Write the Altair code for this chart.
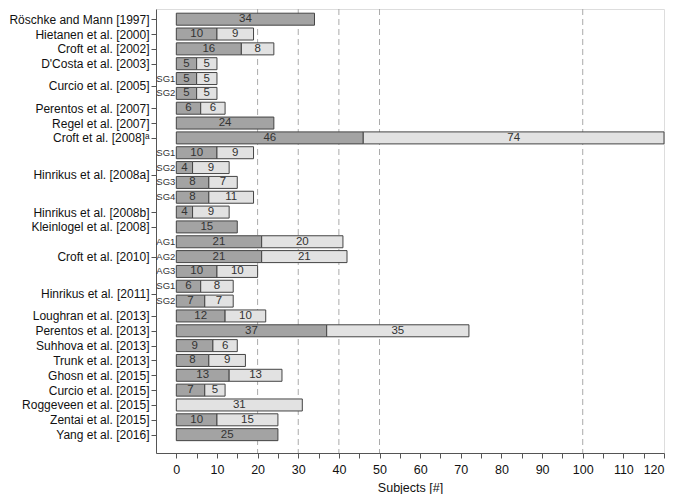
import json
import altair as alt
import pandas as pd

# ---- data ----
studies = [
    "Röschke and Mann [1997]", "Hietanen et al. [2000]", "Croft et al. [2002]",
    "D'Costa et al. [2003]", "Curcio et al. [2005]", "Curcio et al. [2005]",
    "Perentos et al. [2007]", "Regel et al. [2007]", "Croft et al. [2008]ᵃ",
    "Hinrikus et al. [2008a]", "Hinrikus et al. [2008a]", "Hinrikus et al. [2008a]",
    "Hinrikus et al. [2008a]", "Hinrikus et al. [2008b]", "Kleinlogel et al. [2008]",
    "Croft et al. [2010]", "Croft et al. [2010]", "Croft et al. [2010]",
    "Hinrikus et al. [2011]", "Hinrikus et al. [2011]", "Loughran et al. [2013]",
    "Perentos et al. [2013]", "Suhhova et al. [2013]", "Trunk et al. [2013]",
    "Ghosn et al. [2015]", "Curcio et al. [2015]", "Roggeveen et al. [2015]",
    "Zentai et al. [2015]", "Yang et al. [2016]",
]
subgroups = ["", "", "", "", "SG1", "SG2", "", "", "", "SG1", "SG2", "SG3", "SG4",
             "", "", "AG1", "AG2", "AG3", "SG1", "SG2", "", "", "", "", "", "", "", "", ""]
dark = [34, 10, 16, 5, 5, 5, 6, 24, 46, 10, 4, 8, 8, 4, 15, 21, 21, 10, 6, 7,
        12, 37, 9, 8, 13, 7, 0, 10, 25]
light = [0, 9, 8, 5, 5, 5, 6, 0, 74, 9, 9, 7, 11, 9, 0, 20, 21, 10, 8, 7,
         10, 35, 6, 9, 13, 5, 31, 15, 0]
x_ticks = list(range(0, 125, 5))
dashed_lines = [20, 30, 40, 50, 100]

# ---- tables ----
seg_rows = []
for i, (d, l) in enumerate(zip(dark, light)):
    if d > 0:
        seg_rows.append({"row": i, "seg": "dark", "start": 0, "end": d, "mid": d / 2, "val": d})
    if l > 0:
        seg_rows.append({"row": i, "seg": "light", "start": d, "end": d + l,
                         "mid": d + l / 2, "val": l})
segs = pd.DataFrame(seg_rows)

sub_df = pd.DataFrame([{"row": i, "sub": s} for i, s in enumerate(subgroups) if s])

# group centres for the y-axis labels
centres = {}
order = []
for i, s in enumerate(studies):
    if s not in centres:
        centres[s] = []
        order.append(s)
    centres[s].append(i)
label_map = {}
axis_vals = []
for s in order:
    c = sum(centres[s]) / len(centres[s])
    c = int(c) if float(c).is_integer() else c
    axis_vals.append(c)
    label_map[str(c)] = s
label_expr = json.dumps(label_map, ensure_ascii=False) + "[datum.value + '']"

FONT = "Liberation Sans"

y_scale = alt.Scale(domain=[-0.35, 28.9], reverse=True, nice=False, zero=False)
x_scale = alt.Scale(domain=[-5, 120], nice=False, zero=False)

x_axis = alt.Axis(values=x_ticks, labelExpr="datum.value % 10 === 0 ? datum.label : ''",
                  tickCount=60, tickSize=5, labelPadding=5, labelFontSize=12.5,
                  labelColor="#111", domainColor="#555", tickColor="#555", grid=False,
                  labelOverlap=False,
                  title="Subjects [#]", titleFontSize=12.5, titleFontWeight="normal",
                  titleColor="#111", titlePadding=6, labelFont=FONT, titleFont=FONT)
y_axis = alt.Axis(values=axis_vals, labelExpr=label_expr, tickCount=60, tickSize=5,
                  labelPadding=2, labelFontSize=12, labelColor="#111",
                  domainColor="#555", tickColor="#555", grid=False, title=None,
                  labelFont=FONT, labelLimit=300, labelOverlap=False)

rules = alt.Chart(pd.DataFrame({"x": dashed_lines})).mark_rule(
    color="#aaaaaa", strokeDash=[6, 4], strokeWidth=1
).encode(x=alt.X("x:Q", scale=x_scale, axis=x_axis))

bars = alt.Chart(segs).mark_bar(size=12, stroke="#444444", strokeWidth=1).encode(
    x=alt.X("start:Q", scale=x_scale, axis=x_axis),
    x2="end:Q",
    y=alt.Y("row:Q", scale=y_scale, axis=y_axis),
    color=alt.Color("seg:N", scale=alt.Scale(domain=["dark", "light"],
                                             range=["#a3a3a3", "#e2e2e2"]), legend=None),
)

bar_text = alt.Chart(segs).mark_text(fontSize=11.5, color="#333333", font=FONT,
                                      baseline="middle").encode(
    x=alt.X("mid:Q", scale=x_scale),
    y=alt.Y("row:Q", scale=y_scale),
    text="val:Q",
)

sub_text = alt.Chart(sub_df).mark_text(fontSize=9.5, color="#333333", font=FONT,
                                        align="right", baseline="middle", dx=-1).encode(
    x=alt.datum(0, scale=x_scale),
    y=alt.Y("row:Q", scale=y_scale),
    text="sub:N",
)

chart = alt.layer(rules, bars, bar_text, sub_text).properties(
    width=508, height=444, padding={"left": 0, "top": 0, "right": 0, "bottom": 0}
).configure_view(stroke=None).configure(font=FONT)

chart.save("out.html", embed_options={"renderer": "svg", "actions": False})
